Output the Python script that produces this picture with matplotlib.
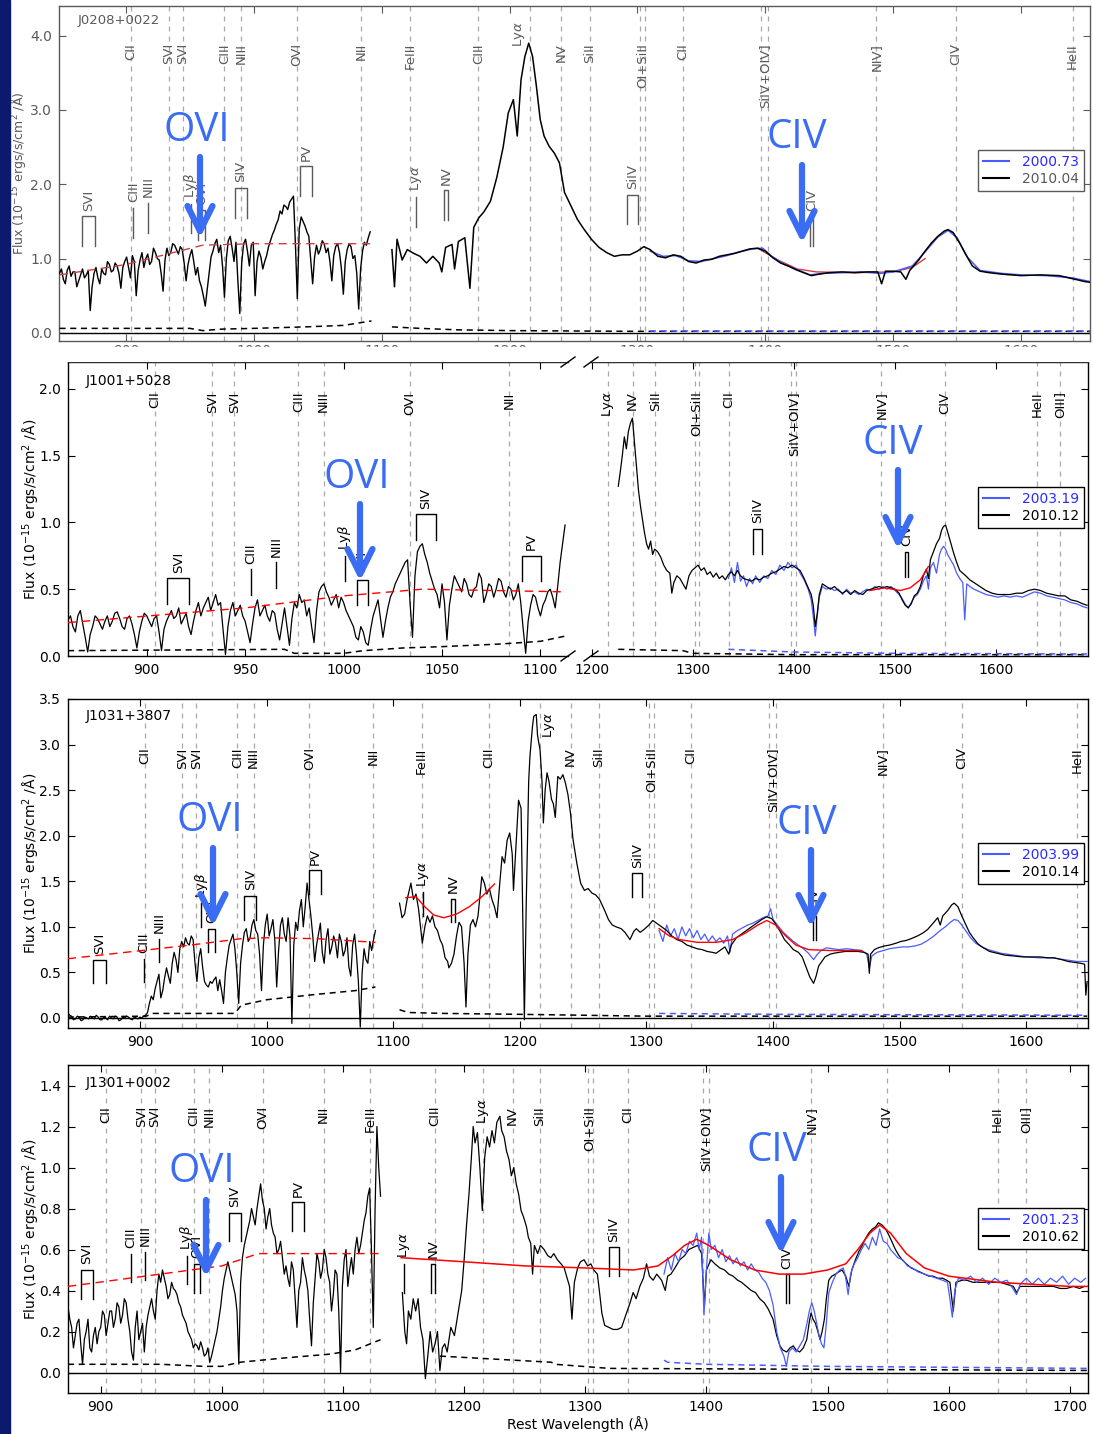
import numpy as np
import matplotlib.pyplot as plt
from matplotlib.patches import Rectangle, FancyArrowPatch
from matplotlib.lines import Line2D

W, H = 1093, 1434
BLUE = '#4a5cff'
CALL = '#3a6cf4'

# emission lines (rest wavelength, Angstrom)
EMISSION = [('CII', [903.96]), ('SVI', [933.38]), ('SVI', [944.52]), ('CIII', [977.02]),
            ('NIII', [989.8]), ('OVI', [1033.8]), ('NII', [1084.0]), ('FeIII', [1122.5]),
            ('CIII', [1175.7]), ('Ly$\\alpha$', [1215.67]), ('NV', [1240.1]), ('SiII', [1262.6]),
            ('OI+SiII', [1302.2, 1306.0]), ('CII', [1335.3]), ('SiIV+OIV]', [1396.8, 1402.0]),
            ('NIV]', [1486.5]), ('CIV', [1549.1]), ('HeII', [1640.4]), ('OIII]', [1663.5])]

# absorption troughs marked at the outflow velocity
ABS_REST = {'SVI': (933.38, 944.52), 'CIII': (977.02,), 'NIII': (989.8,), 'Ly$\\beta$': (1025.72,),
            'OVI': (1031.93, 1037.62), 'SIV': (1062.66, 1073.0), 'PV': (1117.98, 1128.01),
            'Ly$\\alpha$': (1215.67,), 'NV': (1238.82, 1242.80), 'SiIV': (1393.76, 1402.77),
            'CIV': (1548.2, 1550.77)}

# ---------------- J0208+0022 ----------------
j0208_ratio = 0.927
# 848 A onwards, 1.5 A per sample
j0208_blue_side = [.80, .86, .72, .66, .84, .90, .76, .82, .82, .62, .70, .78, .86, .74, .78, .84, .30, .62, .80, .88,
                   .74, .66, .86, .80, .78, .96, .92, .82, .84, .94, .90, .80, .60, .88, .96, 1.02, .88, .74, 1.04, .96,
                   .50, .84, .98, 1.08, .88, 1.00, 1.06, .92, .96, 1.14, 1.08, 1.00, .98, .80, .56, .98, 1.14, 1.04, 1.08, 1.20,
                   1.18, 1.12, 1.06, 1.16, 1.12, .94, .70, .92, 1.04, 1.12, .96, .78, .88, .70, .62, .50, .36, .58, .80, 1.02,
                   1.10, 1.20, 1.26, 1.08, 1.18, .90, .48, 1.00, 1.24, 1.30, 1.14, .96, 1.22, .70, .26, .94, 1.20, 1.26, 1.10, .90,
                   1.18, 1.22, .50, .96, 1.10, 1.02, .86, .96, 1.04, 1.16, 1.24, 1.32, 1.38, 1.46, 1.52, 1.64, 1.60, 1.72, 1.70, 1.66,
                   1.76, 1.80, 1.84, 1.20, .46, 1.40, 1.56, 1.50, 1.44, 1.36, 1.30, .98, .66, 1.02, 1.18, 1.06, 1.12, 1.24, 1.20, 1.08,
                   1.14, .96, .70, 1.04, 1.16, 1.20, 1.08, .86, .52, .96, 1.12, 1.20, 1.16, 1.00, 1.04, .80, .32, .86, 1.10, 1.22,
                   1.18, 1.28, 1.36]
j0208_red_side = [(1108, 1.12), (1110, 0.62), (1112, 1.26), (1116, 0.98), (1120, 1.12), (1125, 1.07), (1130, 1.03),
                  (1135, 0.94), (1140, 1.03), (1145, 0.94), (1147, 0.82), (1150, 1.15), (1155, 1.19), (1157, 0.86),
                  (1160, 1.23), (1165, 1.28), (1169, 0.60), (1172, 1.42), (1176, 1.55), (1180, 1.63), (1185, 1.77),
                  (1190, 2.09), (1195, 2.50), (1199, 2.96), (1203, 3.14), (1206, 2.65), (1209, 3.41), (1212, 3.72),
                  (1215, 3.90), (1218, 3.72), (1221, 3.32), (1224, 2.87), (1227, 2.65), (1231, 2.51), (1235, 2.42),
                  (1239, 2.29), (1243, 1.89), (1248, 1.71), (1253, 1.53), (1258, 1.40), (1264, 1.26), (1270, 1.15),
                  (1276, 1.08), (1282, 1.03), (1288, 1.05), (1294, 1.05), (1300, 1.10), (1305, 1.16), (1310, 1.12),
                  (1316, 1.03), (1322, 1.01), (1328, 1.05), (1334, 1.03), (1340, 0.96), (1346, 0.94), (1352, 0.98),
                  (1358, 0.99), (1364, 1.03), (1370, 1.05), (1376, 1.07), (1382, 1.10), (1388, 1.13), (1394, 1.14),
                  (1400, 1.10), (1406, 1.01), (1412, 0.94), (1418, 0.90), (1424, 0.85), (1430, 0.81), (1436, 0.77),
                  (1442, 0.79), (1450, 0.81), (1460, 0.82), (1470, 0.81), (1480, 0.82), (1488, 0.82), (1491, 0.66),
                  (1494, 0.83), (1500, 0.83), (1506, 0.82), (1510, 0.72), (1513, 0.84), (1520, 0.98), (1525, 1.10),
                  (1530, 1.21), (1535, 1.30), (1540, 1.37), (1543, 1.39), (1547, 1.35), (1552, 1.21), (1557, 1.05),
                  (1562, 0.90), (1568, 0.83), (1575, 0.81), (1585, 0.79), (1600, 0.77), (1615, 0.78), (1630, 0.77),
                  (1640, 0.73), (1650, 0.69), (1654, 0.68)]
j0208_early = [(1310, 1.10), (1320, 1.03), (1330, 1.04), (1340, 0.97), (1350, 0.96), (1360, 1.00), (1370, 1.04),
               (1380, 1.09), (1390, 1.13), (1398, 1.14), (1405, 1.03), (1415, 0.92), (1425, 0.85), (1435, 0.78),
               (1445, 0.80), (1460, 0.81), (1475, 0.82), (1490, 0.80), (1500, 0.82), (1515, 0.90), (1525, 1.09),
               (1535, 1.29), (1543, 1.38), (1550, 1.28), (1558, 1.02), (1568, 0.84), (1585, 0.80), (1600, 0.78),
               (1620, 0.77), (1640, 0.74), (1654, 0.69)]
j0208_err_a = [(848, 0.06), (900, 0.06), (950, 0.06), (960, 0.03), (975, 0.05), (1000, 0.06), (1040, 0.08),
               (1070, 0.10), (1092, 0.16)]
j0208_err_b = [(1108, 0.08), (1130, 0.06), (1160, 0.04), (1200, 0.03), (1300, 0.02), (1654, 0.02)]
j0208_err_early = [(1310, 0.03), (1654, 0.03)]
j0208_cont_a = [(848, 0.78), (900, 0.92), (960, 1.18), (1000, 1.20), (1092, 1.20)]
j0208_cont_b = [(1395, 1.13), (1410, 0.98), (1425, 0.86), (1440, 0.82), (1470, 0.81), (1500, 0.82),
                (1515, 0.88), (1525, 1.00)]
j0208_marks = {'SVI': 1.57, 'CIII': 1.68, 'NIII': 1.75, 'Ly$\\beta$': 1.74, 'OVI': 1.65, 'SIV': 1.95,
               'PV': 2.24, 'Ly$\\alpha$': 1.83, 'NV': 1.92, 'SiIV': 1.86, 'CIV': 1.57}

# ---------------- J1001+5028 ----------------
j1001_ratio = 0.9755
# 860 A onwards, 1.25 A per sample
j1001_blue_side = [.27, .30, .22, .18, .30, .34, .24, .14, .03, .16, .22, .30, .28, .24, .20, .26, .30, .22, .26, .32,
                   .33, .28, .22, .20, .28, .30, .24, .16, .06, .18, .26, .32, .30, .26, .22, .28, .30, .18, .04, .20,
                   .26, .30, .34, .28, .30, .36, .24, .28, .32, .22, .16, .26, .34, .40, .30, .36, .40, .44, .34, .40,
                   .46, .38, .40, .20, .01, .22, .34, .40, .30, .34, .38, .30, .26, .18, .10, .24, .36, .42, .30, .34,
                   .38, .30, .26, .34, .32, .20, .12, .24, .36, .22, .08, .28, .40, .36, .46, .40, .42, .30, .36, .22,
                   .10, .34, .48, .52, .54, .48, .44, .38, .42, .46, .36, .44, .40, .34, .30, .26, .22, .14, .12, .22,
                   .18, .10, .08, .20, .30, .36, .42, .28, .14, .26, .36, .44, .48, .54, .58, .62, .66, .70, .72, .40,
                   .14, .60, .78, .82, .84, .76, .70, .62, .56, .50, .46, .36, .54, .40, .12, .38, .50, .60, .56, .52,
                   .48, .58, .54, .46, .44, .50, .52, .62, .58, .40, .46, .54, .52, .44, .50, .58, .56, .48, .44, .52,
                   .50, .42, .46, .54, .40, .20, .02, .26, .38, .46, .44, .36, .30, .38, .42, .48, .50, .44, .36, .52,
                   .70, .84, .98]
j1001_red_side = [(1226, 1.27), (1228, 1.38), (1230, 1.50), (1232, 1.64), (1234, 1.55), (1236, 1.68), (1238, 1.74),
                  (1240, 1.78), (1242, 1.60), (1244, 1.42), (1246, 1.24), (1248, 1.12), (1250, 1.02), (1252, 0.92),
                  (1254, 0.84), (1256, 0.80), (1258, 0.86), (1260, 0.76), (1262, 0.80), (1265, 0.78), (1268, 0.74),
                  (1271, 0.68), (1274, 0.64), (1277, 0.62), (1279, 0.47), (1281, 0.55), (1284, 0.60), (1287, 0.58),
                  (1290, 0.54), (1293, 0.50), (1296, 0.60), (1299, 0.64), (1302, 0.66), (1305, 0.68), (1308, 0.64),
                  (1311, 0.66), (1314, 0.61), (1317, 0.63), (1320, 0.59), (1323, 0.62), (1326, 0.58), (1329, 0.60),
                  (1332, 0.57), (1335, 0.61), (1338, 0.63), (1341, 0.60), (1344, 0.64), (1347, 0.60), (1350, 0.58),
                  (1354, 0.57), (1358, 0.56), (1362, 0.58), (1366, 0.57), (1370, 0.59), (1374, 0.60), (1378, 0.62),
                  (1382, 0.63), (1386, 0.65), (1390, 0.67), (1394, 0.66), (1398, 0.68), (1402, 0.66), (1406, 0.64),
                  (1410, 0.58), (1414, 0.51), (1417, 0.46), (1419, 0.38), (1421, 0.22), (1423, 0.32), (1425, 0.46),
                  (1428, 0.54), (1432, 0.52), (1436, 0.50), (1440, 0.52), (1444, 0.49), (1448, 0.47), (1452, 0.49),
                  (1456, 0.46), (1460, 0.49), (1464, 0.47), (1468, 0.46), (1472, 0.49), (1476, 0.50), (1480, 0.51),
                  (1484, 0.52), (1488, 0.51), (1492, 0.52), (1496, 0.51), (1500, 0.50), (1504, 0.47), (1507, 0.42),
                  (1510, 0.38), (1513, 0.36), (1516, 0.39), (1519, 0.45), (1522, 0.47), (1525, 0.52), (1528, 0.60),
                  (1531, 0.65), (1533, 0.58), (1535, 0.72), (1538, 0.78), (1541, 0.84), (1544, 0.88), (1546, 0.94),
                  (1548, 0.97), (1550, 0.98), (1552, 0.93), (1555, 0.85), (1558, 0.77), (1561, 0.70), (1564, 0.64),
                  (1567, 0.62), (1570, 0.60), (1574, 0.57), (1578, 0.55), (1584, 0.52), (1590, 0.49), (1596, 0.47),
                  (1602, 0.46), (1608, 0.46), (1614, 0.46), (1620, 0.47), (1626, 0.47), (1632, 0.49), (1638, 0.50),
                  (1644, 0.49), (1650, 0.47), (1656, 0.46), (1662, 0.45), (1668, 0.45), (1674, 0.42), (1680, 0.41),
                  (1686, 0.39), (1690, 0.38)]
j1001_early = [(1335, 0.58), (1338, 0.66), (1341, 0.55), (1344, 0.70), (1347, 0.56), (1350, 0.60), (1353, 0.52),
               (1356, 0.58), (1359, 0.54), (1362, 0.60), (1366, 0.55), (1370, 0.60), (1374, 0.58), (1378, 0.64),
               (1382, 0.61), (1386, 0.68), (1390, 0.64), (1394, 0.70), (1398, 0.66), (1402, 0.68), (1406, 0.62),
               (1410, 0.57), (1414, 0.50), (1417, 0.42), (1419, 0.30), (1421, 0.15), (1423, 0.30), (1425, 0.44),
               (1428, 0.52), (1432, 0.50), (1436, 0.51), (1440, 0.49), (1444, 0.50), (1448, 0.46), (1452, 0.50),
               (1456, 0.47), (1460, 0.48), (1464, 0.46), (1468, 0.48), (1472, 0.50), (1476, 0.49), (1480, 0.52),
               (1484, 0.50), (1488, 0.52), (1492, 0.50), (1496, 0.52), (1500, 0.49), (1504, 0.46), (1507, 0.43),
               (1510, 0.39), (1513, 0.36), (1516, 0.40), (1519, 0.44), (1522, 0.46), (1525, 0.50), (1528, 0.56),
               (1531, 0.60), (1533, 0.50), (1535, 0.66), (1538, 0.70), (1541, 0.62), (1544, 0.76), (1546, 0.80),
               (1548, 0.82), (1550, 0.80), (1552, 0.76), (1555, 0.72), (1558, 0.68), (1561, 0.62), (1564, 0.58),
               (1567, 0.55), (1569, 0.27), (1571, 0.54), (1574, 0.52), (1578, 0.50), (1584, 0.48), (1590, 0.46),
               (1596, 0.45), (1602, 0.44), (1608, 0.45), (1614, 0.44), (1620, 0.45), (1626, 0.44), (1632, 0.46),
               (1638, 0.48), (1644, 0.47), (1650, 0.45), (1656, 0.44), (1662, 0.43), (1668, 0.42), (1674, 0.40),
               (1680, 0.39), (1686, 0.37), (1690, 0.36)]
j1001_err_a = [(860, 0.04), (970, 0.05), (975, 0.02), (1000, 0.02), (1010, 0.04), (1030, 0.06), (1050, 0.07),
               (1080, 0.09), (1100, 0.11), (1113, 0.15)]
j1001_err_b = [(1226, 0.05), (1290, 0.04), (1300, 0.02), (1400, 0.01), (1690, 0.01)]
j1001_err_early = [(1335, 0.05), (1400, 0.03), (1500, 0.02), (1690, 0.015)]
j1001_cont_a = [(860, 0.25), (950, 0.36), (1000, 0.45), (1040, 0.50), (1113, 0.48)]
j1001_cont_b = [(1475, 0.49), (1490, 0.51), (1505, 0.49), (1515, 0.51), (1525, 0.57), (1533, 0.67)]
j1001_marks = {'SVI': 0.58, 'CIII': 0.65, 'NIII': 0.70, 'Ly$\\beta$': 0.75, 'OVI': 0.57, 'SIV': 1.06,
               'PV': 0.75, 'SiIV': 0.95, 'CIV': 0.78}

# ---------------- J1031+3807 ----------------
j1031_ratio = 0.9245
# 843 A onwards, 1.5 A per sample
j1031_blue_side = [.06, .03, .02, -.02, -.01, .02, .01, -.03, -.02, .01, .00, -.01, .02, .00, -.01, .03, .01, -.02, -.02, .01,
                   .00, -.02, .02, .00, -.01, .02, .01, -.03, -.02, .01, .00, .02, .01, -.01, -.02, .01, .00, -.01, .01, .00,
                   .02, .03, .06, .16, .24, .20, .32, .40, .48, .22, .30, .44, .55, .46, .38, .60, .72, .64, .50, .76,
                   .84, .78, .88, .82, .80, .90, .86, .60, .40, .66, .76, .56, .40, .36, .34, .40, .38, .42, .45, .30,
                   .42, .30, .16, .50, .66, .80, .86, .92, .76, .50, .16, .60, .80, .94, .98, .84, .88, 1.02, 1.08, .96,
                   .92, .70, .30, .80, 1.02, 1.14, .90, .98, 1.08, .86, .34, .74, 1.02, 1.10, .92, .84, 1.10, .90, -.06, .80,
                   1.05, .96, 1.18, 1.30, 1.00, 1.22, 1.48, 1.30, 1.12, .90, .62, .80, .92, 1.04, .72, .60, .86, .98, .70, .78,
                   .90, .82, .66, .92, .84, .68, .74, .88, .56, .46, .80, .92, .70, .40, -.10, .50, .76, .64, .60, .84,
                   .74, .86, .96]
j1031_red_side = [(1105, 1.26), (1107, 1.10), (1109, 1.14), (1111, 1.30), (1113, 1.42), (1114, 1.48), (1116, 1.30),
                  (1118, 1.36), (1120, 1.20), (1122, 0.95), (1123, 0.82), (1125, 1.00), (1127, 1.12), (1129, 1.05),
                  (1131, 1.12), (1133, 1.00), (1135, 0.96), (1137, 0.86), (1139, 0.80), (1141, 0.66), (1143, 0.62),
                  (1144, 0.55), (1146, 0.60), (1148, 0.70), (1150, 0.90), (1152, 1.05), (1154, 1.00), (1156, 0.60),
                  (1157.5, 0.12), (1159, 0.70), (1161, 1.02), (1163, 1.08), (1165, 1.00), (1167, 1.12), (1169, 1.40),
                  (1170, 1.55), (1172, 1.48), (1174, 1.36), (1176, 1.42), (1178, 1.30), (1180, 1.22), (1182, 1.10),
                  (1184, 1.45), (1186, 1.77), (1188, 1.70), (1190, 1.95), (1192, 2.03), (1194, 1.80), (1195, 1.40),
                  (1197, 1.90), (1199, 2.39), (1201, 2.30), (1202.5, 1.00), (1203.6, -0.02), (1205, 1.20),
                  (1207, 2.60), (1208, 2.87), (1210, 3.20), (1211, 3.31), (1213, 3.33), (1214, 3.10), (1216, 2.94),
                  (1217.5, 2.60), (1218.6, 2.14), (1220, 2.50), (1221.5, 2.69), (1223, 2.60), (1225, 2.40),
                  (1226.5, 2.35), (1228, 2.20), (1230, 2.65), (1232, 2.62), (1234, 2.67), (1236, 2.58), (1238, 2.45),
                  (1240, 2.25), (1242, 1.96), (1245, 1.70), (1248, 1.48), (1251, 1.40), (1254, 1.42), (1257, 1.37),
                  (1260, 1.35), (1263, 1.30), (1267, 1.18), (1270, 1.08), (1273, 1.02), (1276, 1.00), (1280, 0.98),
                  (1283, 0.94), (1287, 0.86), (1290, 0.95), (1292, 0.98), (1295, 0.94), (1298, 0.97), (1302, 1.02),
                  (1305, 1.07), (1308, 1.04), (1312, 1.00), (1316, 0.96), (1320, 0.90), (1324, 0.86), (1328, 0.84),
                  (1332, 0.80), (1336, 0.78), (1340, 0.76), (1344, 0.75), (1348, 0.73), (1352, 0.72), (1355, 0.71),
                  (1358, 0.74), (1362, 0.78), (1365, 0.70), (1367, 0.80), (1371, 0.88), (1376, 0.93), (1381, 0.98),
                  (1386, 1.03), (1391, 1.08), (1395, 1.11), (1399, 1.09), (1402, 1.03), (1406, 0.94), (1409, 0.86),
                  (1413, 0.80), (1416, 0.75), (1420, 0.72), (1423, 0.67), (1426, 0.56), (1429, 0.45), (1432, 0.38),
                  (1434, 0.46), (1436, 0.57), (1439, 0.63), (1441, 0.67), (1445, 0.70), (1448, 0.71), (1452, 0.72),
                  (1457, 0.73), (1462, 0.73), (1467, 0.73), (1472, 0.72), (1475, 0.70), (1476, 0.49), (1477, 0.70),
                  (1480, 0.75), (1483, 0.77), (1488, 0.79), (1492, 0.80), (1497, 0.82), (1501, 0.84), (1505, 0.85),
                  (1509, 0.87), (1514, 0.90), (1518, 0.93), (1522, 0.97), (1527, 1.05), (1530, 1.10), (1532, 1.02),
                  (1534, 1.12), (1538, 1.18), (1541, 1.24), (1543, 1.26), (1546, 1.22), (1549, 1.12), (1552, 1.03),
                  (1555, 0.94), (1558, 0.88), (1562, 0.81), (1566, 0.77), (1571, 0.73), (1577, 0.71), (1583, 0.69),
                  (1590, 0.68), (1597, 0.67), (1604, 0.67), (1611, 0.67), (1617, 0.66), (1622, 0.66), (1628, 0.64),
                  (1633, 0.62), (1638, 0.61), (1643, 0.60), (1646, 0.59), (1647, 0.25), (1648, 0.40)]
j1031_early = [(1310, 0.96), (1313, 0.84), (1316, 1.02), (1319, 0.90), (1322, 0.98), (1325, 0.86), (1328, 1.00),
               (1331, 0.90), (1334, 0.98), (1337, 0.88), (1340, 0.96), (1343, 0.86), (1346, 0.92), (1349, 0.84),
               (1352, 0.90), (1355, 0.84), (1358, 0.88), (1361, 0.82), (1364, 0.90), (1366, 0.72), (1368, 0.92),
               (1372, 0.96), (1376, 0.99), (1380, 1.02), (1384, 1.04), (1388, 1.07), (1392, 1.10), (1396, 1.12),
               (1398, 1.20), (1400, 1.08), (1404, 1.01), (1408, 0.94), (1412, 0.89), (1416, 0.84), (1420, 0.80),
               (1424, 0.76), (1428, 0.71), (1432, 0.64), (1435, 0.70), (1438, 0.74), (1442, 0.77), (1447, 0.76),
               (1452, 0.75), (1458, 0.76), (1464, 0.75), (1470, 0.74), (1474, 0.70), (1476, 0.55), (1478, 0.68),
               (1482, 0.72), (1487, 0.74), (1492, 0.76), (1497, 0.77), (1502, 0.78), (1507, 0.78), (1512, 0.79),
               (1517, 0.81), (1522, 0.85), (1527, 0.90), (1532, 0.96), (1536, 1.00), (1540, 1.05), (1543, 1.08),
               (1546, 1.07), (1549, 1.02), (1552, 0.96), (1556, 0.88), (1560, 0.82), (1565, 0.78), (1570, 0.75),
               (1575, 0.73), (1580, 0.71), (1590, 0.69), (1600, 0.67), (1610, 0.66), (1620, 0.66), (1630, 0.64),
               (1640, 0.62), (1648, 0.62)]
j1031_err_a = [(843, 0.01), (905, 0.02), (910, 0.05), (975, 0.05), (980, 0.14), (1000, 0.20), (1040, 0.26),
               (1070, 0.30), (1086, 0.34)]
j1031_err_b = [(1105, 0.09), (1112, 0.06), (1140, 0.05), (1200, 0.04), (1300, 0.02), (1648, 0.02)]
j1031_err_early = [(1310, 0.05), (1400, 0.04), (1648, 0.03)]
j1031_cont_a = [(843, 0.65), (940, 0.80), (980, 0.87), (1000, 0.88), (1040, 0.87), (1086, 0.83)]
j1031_cont_b = [(1110, 1.32), (1118, 1.33), (1125, 1.22), (1132, 1.13), (1140, 1.10), (1150, 1.14), (1160, 1.22),
                (1170, 1.33), (1180, 1.47)]
j1031_cont_c = [(1310, 0.98), (1318, 0.90), (1326, 0.86), (1340, 0.83), (1355, 0.83), (1368, 0.86), (1378, 0.93),
                (1388, 1.02), (1395, 1.07), (1402, 1.02), (1410, 0.90), (1418, 0.80), (1428, 0.75), (1445, 0.74),
                (1470, 0.74)]
j1031_marks = {'SVI': 0.64, 'CIII': 0.65, 'NIII': 0.87, 'Ly$\\beta$': 1.26, 'OVI': 0.98, 'SIV': 1.34,
               'PV': 1.62, 'Ly$\\alpha$': 1.38, 'NV': 1.31, 'SiIV': 1.59, 'CIV': 1.12}

# ---------------- J1301+0002 ----------------
j1301_ratio = 0.9465
# 873 A onwards, 1.5 A per sample
j1301_blue_side = [.32, .26, .22, .12, .18, .24, .26, .14, .04, .16, .20, .26, .12, .10, .18, .22, .14, .20, .22, .30,
                   .28, .18, .24, .30, .30, .22, .26, .34, .32, .24, .28, .36, .34, .26, .20, .10, .06, .22, .30, .16,
                   .20, .24, .10, .22, .28, .32, .36, .30, .26, .40, .48, .44, .50, .46, .42, .36, .38, .44, .41, .40,
                   .38, .34, .32, .28, .26, .24, .20, .18, .16, .12, .14, .13, .11, .15, .12, .08, .09, .12, .05, .08,
                   .12, .16, .20, .26, .32, .40, .46, .50, .54, .50, .46, .42, .38, .30, .04, .44, .56, .62, .66, .70,
                   .74, .80, .76, .72, .80, .86, .92, .84, .80, .70, .76, .80, .72, .68, .66, .58, .60, .64, .56, .48,
                   .52, .46, .42, .54, .50, .36, .22, .40, .44, .56, .50, .46, .40, .26, .13, .34, .46, .58, .54, .46,
                   .50, .60, .56, .48, .44, .30, .38, .50, .48, .30, .00, .42, .55, .60, .42, .50, .56, .48, .60, .66,
                   .58, .62, .68, .74, .78, .86, .90, .60, .22, .80, 1.20, 1.00, .86]
j1301_red_side = [(1149, 0.39), (1151, 0.20), (1152.5, 0.14), (1154, 0.30), (1156, 0.26), (1158, 0.36), (1160, 0.30),
                  (1162, 0.36), (1164, 0.22), (1166, 0.16), (1168, -0.03), (1170, 0.08), (1172, 0.20), (1174, 0.10),
                  (1176, 0.14), (1178, 0.20), (1180, 0.01), (1182, 0.12), (1184, 0.14), (1186, 0.10), (1189, 0.22),
                  (1192, 0.18), (1195, 0.29), (1198, 0.40), (1200, 0.55), (1202, 0.72), (1204, 0.87), (1206, 1.05),
                  (1207.5, 1.20), (1209, 1.12), (1211, 1.17), (1213, 1.00), (1215, 0.79), (1217, 1.05), (1219, 1.15),
                  (1221, 1.10), (1223, 1.18), (1225, 1.12), (1227, 1.22), (1229.5, 1.25), (1231, 1.18), (1233, 1.15),
                  (1235, 1.08), (1237, 1.04), (1239, 0.96), (1241, 1.00), (1243, 0.92), (1245, 0.87), (1247, 0.79),
                  (1249, 0.76), (1251.5, 0.71), (1253, 0.66), (1255, 0.63), (1256.5, 0.48), (1258, 0.62),
                  (1260.7, 0.58), (1263, 0.62), (1266, 0.60), (1269, 0.57), (1271.6, 0.56), (1274, 0.58), (1277, 0.55),
                  (1280, 0.53), (1282.6, 0.51), (1285, 0.46), (1287, 0.42), (1289, 0.26), (1291, 0.44), (1293.7, 0.51),
                  (1296, 0.54), (1299, 0.55), (1302, 0.52), (1304.6, 0.53), (1307, 0.50), (1310, 0.48), (1312, 0.38),
                  (1313.7, 0.29), (1316, 0.23), (1319.5, 0.22), (1323, 0.21), (1326.7, 0.21), (1330, 0.22),
                  (1334, 0.29), (1337, 0.34), (1339.5, 0.39), (1342, 0.36), (1345, 0.42), (1348, 0.46),
                  (1350.6, 0.53), (1353, 0.47), (1356, 0.45), (1359, 0.48), (1363, 0.45), (1366, 0.40), (1368, 0.47),
                  (1370.7, 0.48), (1374, 0.51), (1378, 0.55), (1382, 0.57), (1385.5, 0.60), (1389, 0.61),
                  (1392.8, 0.62), (1396, 0.58), (1398.3, 0.32), (1400, 0.50), (1403.7, 0.55), (1407, 0.53),
                  (1411, 0.51), (1415, 0.50), (1418.5, 0.48), (1422, 0.47), (1425.8, 0.45), (1429, 0.44), (1433, 0.42),
                  (1437, 0.40), (1440.5, 0.39), (1444, 0.36), (1447.8, 0.34), (1451, 0.31), (1455, 0.26), (1458, 0.18),
                  (1460.7, 0.13), (1463, 0.11), (1466.2, 0.10), (1469, 0.12), (1471.7, 0.13), (1474, 0.11),
                  (1477, 0.10), (1480, 0.12), (1482.8, 0.16), (1485, 0.25), (1486.4, 0.29), (1488, 0.26), (1490, 0.24),
                  (1492, 0.20), (1493.8, 0.16), (1495.5, 0.20), (1497.4, 0.26), (1499, 0.36), (1501, 0.45),
                  (1503.5, 0.47), (1506.6, 0.48), (1509, 0.49), (1512, 0.50), (1515, 0.47), (1517.6, 0.42),
                  (1520, 0.50), (1523, 0.55), (1525.8, 0.59), (1528.6, 0.62), (1531, 0.65), (1534, 0.68), (1537, 0.70),
                  (1539.6, 0.71), (1542, 0.73), (1545, 0.72), (1548, 0.70), (1550.6, 0.67), (1553, 0.64), (1556, 0.60),
                  (1559, 0.57), (1561.6, 0.55), (1565, 0.53), (1569, 0.51), (1572.6, 0.50), (1576.3, 0.49),
                  (1580, 0.48), (1583.7, 0.47), (1587, 0.47), (1591, 0.46), (1595, 0.46), (1598.3, 0.45), (1601, 0.44),
                  (1603.8, 0.30), (1606, 0.44), (1611, 0.45), (1615, 0.45), (1620, 0.44), (1625, 0.44),
                  (1631.4, 0.44), (1637, 0.44), (1642.4, 0.44), (1648, 0.43), (1653.4, 0.42), (1656, 0.39),
                  (1659, 0.42), (1664.4, 0.42), (1670, 0.42), (1675.4, 0.42), (1681, 0.42), (1686.4, 0.42),
                  (1692, 0.41), (1697.4, 0.41), (1703, 0.42), (1708, 0.41), (1712, 0.42)]
j1301_early = [(1365, 0.48), (1368, 0.56), (1371, 0.50), (1374, 0.58), (1377, 0.54), (1380, 0.60), (1383, 0.58),
               (1386, 0.64), (1389, 0.62), (1392, 0.68), (1394, 0.60), (1396, 0.66), (1398, 0.28), (1400, 0.50),
               (1402, 0.68), (1404, 0.60), (1407, 0.62), (1410, 0.56), (1413, 0.60), (1416, 0.54), (1419, 0.57),
               (1422, 0.53), (1425, 0.56), (1428, 0.52), (1431, 0.54), (1434, 0.50), (1437, 0.53), (1440, 0.50),
               (1443, 0.49), (1446, 0.46), (1449, 0.44), (1452, 0.40), (1455, 0.33), (1458, 0.20), (1461, 0.12),
               (1464, 0.08), (1466, 0.03), (1468, 0.10), (1471, 0.12), (1474, 0.10), (1477, 0.13), (1480, 0.16),
               (1483, 0.24), (1485, 0.30), (1487, 0.34), (1489, 0.30), (1491, 0.24), (1493, 0.18), (1495, 0.14),
               (1497, 0.12), (1499, 0.24), (1501, 0.39), (1504, 0.44), (1507, 0.48), (1510, 0.50), (1513, 0.51),
               (1515, 0.46), (1517, 0.38), (1519, 0.48), (1522, 0.53), (1525, 0.56), (1528, 0.60), (1531, 0.63),
               (1534, 0.60), (1537, 0.66), (1540, 0.62), (1543, 0.70), (1546, 0.64), (1549, 0.63), (1552, 0.60),
               (1555, 0.58), (1558, 0.56), (1562, 0.55), (1566, 0.52), (1570, 0.51), (1575, 0.49), (1580, 0.48),
               (1585, 0.47), (1590, 0.46), (1595, 0.45), (1599, 0.44), (1601, 0.36), (1603, 0.27), (1605, 0.40),
               (1608, 0.46), (1613, 0.45), (1618, 0.47), (1623, 0.44), (1628, 0.46), (1633, 0.43), (1638, 0.46),
               (1643, 0.44), (1648, 0.45), (1653, 0.41), (1656, 0.38), (1659, 0.43), (1664, 0.46), (1669, 0.43),
               (1674, 0.46), (1679, 0.43), (1684, 0.46), (1689, 0.44), (1694, 0.47), (1699, 0.43), (1704, 0.46),
               (1709, 0.44), (1713, 0.46)]
j1301_err_a = [(873, 0.04), (950, 0.04), (985, 0.03), (1000, 0.03), (1015, 0.05), (1050, 0.07), (1090, 0.09),
               (1110, 0.11), (1131, 0.16)]
j1301_err_b = [(1180, 0.08), (1272, 0.05), (1275, 0.04), (1320, 0.02), (1715, 0.01)]
j1301_err_early = [(1365, 0.06), (1368, 0.05), (1400, 0.04), (1500, 0.03), (1715, 0.02)]
j1301_cont_a = [(873, 0.42), (1000, 0.52), (1030, 0.58), (1131, 0.58)]
j1301_cont_b = [(1148, 0.56), (1200, 0.54), (1250, 0.52), (1300, 0.51), (1340, 0.50), (1360, 0.52), (1372, 0.57),
                (1382, 0.62), (1392, 0.65), (1402, 0.62), (1420, 0.55), (1440, 0.50), (1460, 0.48), (1480, 0.48),
                (1500, 0.50), (1515, 0.53), (1525, 0.60), (1535, 0.68), (1543, 0.72), (1552, 0.68), (1565, 0.58),
                (1580, 0.51), (1600, 0.47), (1640, 0.44), (1700, 0.42), (1715, 0.42)]
j1301_marks = {'SVI': 0.50, 'CIII': 0.58, 'NIII': 0.59, 'Ly$\\beta$': 0.57, 'OVI': 0.53, 'SIV': 0.78,
               'PV': 0.83, 'Ly$\\alpha$': 0.53, 'NV': 0.53, 'SiIV': 0.61, 'CIV': 0.48}

FLUX_LABEL = 'Flux (10$^{-15}$ ergs/s/cm$^2$ /Å)'


def px(x, y):
    return x / W, 1 - y / H


def box(l, t, r, b):
    return [l / W, 1 - b / H, (r - l) / W, (b - t) / H]


def split(pairs):
    a = np.array(pairs, dtype=float)
    return a[:, 0], a[:, 1]


def regular(start, step, vals):
    return start + step * np.arange(len(vals)), np.array(vals)


def style(ax, xlim, ylim, xticks, yticks, color='black', pad=5):
    ax.set_xlim(*xlim)
    ax.set_ylim(*ylim)
    ax.set_xticks(xticks)
    ax.set_yticks(yticks)
    ax.set_yticklabels(['%.1f' % v for v in yticks])
    ax.tick_params(direction='in', top=True, right=True, length=5, width=0.8,
                   labelsize=10, colors=color, pad=5)
    ax.tick_params(axis='x', pad=pad)
    for s in ax.spines.values():
        s.set_color(color)
        s.set_linewidth(1)


def emission(ax, top, over=None, color='black'):
    lo, hi = ax.get_xlim()
    for name, waves in EMISSION:
        if not (lo < np.mean(waves) < hi):
            continue
        for w in waves:
            ax.axvline(w, color='#a8a8a8', lw=0.9, ls=(0, (4, 4)), zorder=1)
        x, y = np.mean(waves), top
        if over and name in over:
            dx, y = over[name]
            x += dx
        ax.text(x, y, name, rotation=90, ha='center', va='top', fontsize=9.5, color=color, zorder=4)


def troughs(ax, ratio, tops, leg, color='black'):
    lo, hi = ax.get_xlim()
    for name, top in tops.items():
        xs = [r * ratio for r in ABS_REST[name]]
        if not (lo < xs[0] < hi):
            continue
        if len(xs) == 1:
            ax.plot([xs[0], xs[0]], [top - leg, top], color=color, lw=1, zorder=4)
        else:
            ax.plot([xs[0], xs[0], xs[1], xs[1]], [top - leg, top, top, top - leg], color=color, lw=1, zorder=4)
        ax.annotate(name, (np.mean(xs), top), xytext=(0, 4), textcoords='offset points', rotation=90,
                    ha='center', va='bottom', fontsize=9.5, color=color, zorder=4)


def spectrum(ax, x, y, color='black', lw=0.9, ls='-', z=3):
    ax.plot(x, y, color=color, lw=lw, ls=ls, zorder=z)


def legend(ax, labels, x, y, color='black'):
    handles = [Line2D([], [], color=BLUE, lw=1.5), Line2D([], [], color='black', lw=1.5)]
    leg = ax.legend(handles, labels, loc='upper left', bbox_to_anchor=px(x, y), bbox_transform=fig.transFigure,
                    fancybox=False, edgecolor=color, fontsize=10, handlelength=1.9, borderpad=0.35,
                    labelspacing=0.25, borderaxespad=0, framealpha=1, handletextpad=0.9)
    leg.get_frame().set_linewidth(1)
    leg.get_texts()[0].set_color('#2a2aff')
    leg.get_texts()[1].set_color(color)
    leg.set_zorder(10)


def ylabel(x, top, bottom, size=10, color='black'):
    fig.text(*px(x, (top + bottom) / 2), FLUX_LABEL, rotation=90, ha='center', va='center',
             fontsize=size, color=color)


def callout(text, tx, ty, ax_x, y0, y1):
    fig.text(*px(tx, ty), text, fontsize=29, color=CALL, ha='center', va='baseline',
             family='Open Sans', zorder=12)
    fig.add_artist(FancyArrowPatch(px(ax_x, y0), px(ax_x, y1), transform=fig.transFigure,
                                   arrowstyle='->,head_length=0.9,head_width=0.45', mutation_scale=20,
                                   lw=4.5, color=CALL, shrinkA=0, shrinkB=0, zorder=12))


fig = plt.figure(figsize=(W / 100, H / 100), dpi=100)
fig.patch.set_facecolor('white')
fig.add_artist(Rectangle((0, 0), 10 / W, 1, transform=fig.transFigure, color='#0b1a6c', zorder=20))

# ---- panel 1: J0208+0022 ----
GREY = '#5a5a5a'
ax1 = fig.add_axes(box(59, 6, 1090, 341))
style(ax1, (847.6, 1654), (-0.11, 4.4), range(900, 1700, 100), [0, 1, 2, 3, 4], GREY, pad=2)
ax1.axhline(0, color='black', lw=1, zorder=2)
emission(ax1, 3.9, {'Ly$\\alpha$': (-8, 4.19)}, GREY)
troughs(ax1, j0208_ratio, j0208_marks, 0.4, GREY)
spectrum(ax1, *regular(848, 1.5, j0208_blue_side), lw=1.0)
spectrum(ax1, *split(j0208_early), color=BLUE, lw=1.1)
spectrum(ax1, *split(j0208_red_side), lw=1.1)
spectrum(ax1, *split(j0208_cont_a), color='#d04040', ls=(0, (6, 4)), lw=1, z=4)
spectrum(ax1, *split(j0208_cont_b), color='#d04040', lw=1, z=2)
for e in (j0208_err_a, j0208_err_b):
    spectrum(ax1, *split(e), ls=(0, (4, 3)), lw=1.1)
spectrum(ax1, *split(j0208_err_early), color=BLUE, ls=(0, (4, 3)), lw=1.1)
ax1.text(0.018, 0.975, 'J0208+0022', transform=ax1.transAxes, fontsize=9.5, color=GREY, va='top')
ylabel(19, 6, 341, 9, GREY)
legend(ax1, ['2000.73', '2010.04'], 978, 150, GREY)
# the panel below overlaps the tick labels of this one
fig.add_artist(Rectangle(px(10, 361), 1, 14 / H, transform=fig.transFigure, color='white', zorder=5))

# ---- panel 2: J1001+5028 (broken axis) ----
ax2a = fig.add_axes(box(68, 362, 568, 656))
ax2b = fig.add_axes(box(591, 362, 1088, 656))
style(ax2a, (860, 1114), (0, 2.2), [900, 950, 1000, 1050, 1100], [0, 0.5, 1.0, 1.5, 2.0])
style(ax2b, (1199, 1691), (0, 2.2), [1200, 1300, 1400, 1500, 1600], [0, 0.5, 1.0, 1.5, 2.0])
ax2a.spines['right'].set_visible(False)
ax2b.spines['left'].set_visible(False)
ax2a.tick_params(right=False)
ax2b.tick_params(left=False, labelleft=False)
for ax in (ax2a, ax2b):
    emission(ax, 1.98)
    troughs(ax, j1001_ratio, j1001_marks, 0.19)
spectrum(ax2a, *regular(860, 1.25, j1001_blue_side))
spectrum(ax2a, *split(j1001_cont_a), color='red', ls=(0, (6, 4)), lw=1, z=4)
spectrum(ax2a, *split(j1001_err_a), ls=(0, (4, 3)), lw=1.1)
spectrum(ax2b, *split(j1001_early), color=BLUE)
spectrum(ax2b, *split(j1001_red_side))
spectrum(ax2b, *split(j1001_cont_b), color='red', lw=1, z=4)
spectrum(ax2b, *split(j1001_err_b), ls=(0, (4, 3)), lw=1.1)
spectrum(ax2b, *split(j1001_err_early), color=BLUE, ls=(0, (4, 3)), lw=1.1)
ax2a.text(0.035, 0.96, 'J1001+5028', transform=ax2a.transAxes, fontsize=10, va='top')
ylabel(31, 362, 656)
legend(ax2b, ['2003.19', '2010.12'], 978, 487)
for cx in (568, 591):
    for cy in (362, 656):
        fig.add_artist(Line2D([(cx - 7) / W, (cx + 7) / W], [1 - (cy + 5) / H, 1 - (cy - 5) / H],
                              transform=fig.transFigure, color='black', lw=1, zorder=6))

# ---- panel 3: J1031+3807 ----
ax3 = fig.add_axes(box(68, 699, 1088, 1028))
style(ax3, (843.2, 1648.7), (-0.11, 3.5), range(900, 1700, 100), np.arange(0, 3.6, 0.5))
ax3.axhline(0, color='black', lw=1, zorder=2)
emission(ax3, 2.97, {'Ly$\\alpha$': (7, 3.35)})
troughs(ax3, j1031_ratio, j1031_marks, 0.26)
spectrum(ax3, *regular(843, 1.5, j1031_blue_side))
spectrum(ax3, *split(j1031_early), color=BLUE)
spectrum(ax3, *split(j1031_red_side))
spectrum(ax3, *split(j1031_cont_a), color='red', ls=(0, (6, 4)), lw=1, z=4)
spectrum(ax3, *split(j1031_cont_b), color='red', lw=1, z=4)
spectrum(ax3, *split(j1031_cont_c), color='red', lw=1, z=4)
for e in (j1031_err_a, j1031_err_b):
    spectrum(ax3, *split(e), ls=(0, (4, 3)), lw=1.1)
spectrum(ax3, *split(j1031_err_early), color=BLUE, ls=(0, (4, 3)), lw=1.1)
ax3.text(0.017, 0.97, 'J1031+3807', transform=ax3.transAxes, fontsize=10, va='top')
ylabel(31, 699, 1028)
legend(ax3, ['2003.99', '2010.14'], 978, 843)

# ---- panel 4: J1301+0002 ----
ax4 = fig.add_axes(box(68, 1065, 1088, 1393))
style(ax4, (873, 1715), (-0.1, 1.5), range(900, 1800, 100), np.arange(0, 1.41, 0.2))
ax4.axhline(0, color='black', lw=1, zorder=2)
emission(ax4, 1.30, {'Ly$\\alpha$': (0, 1.34)})
troughs(ax4, j1301_ratio, j1301_marks, 0.14)
spectrum(ax4, *regular(873, 1.5, j1301_blue_side))
spectrum(ax4, *split(j1301_red_side))
spectrum(ax4, *split(j1301_early), color=BLUE, z=3.5)
spectrum(ax4, *split(j1301_cont_a), color='red', ls=(0, (6, 4)), lw=1, z=4)
spectrum(ax4, *split(j1301_cont_b), color='red', lw=1.1, z=4)
for e in (j1301_err_a, j1301_err_b):
    spectrum(ax4, *split(e), ls=(0, (4, 3)), lw=1.1)
spectrum(ax4, *split(j1301_err_early), color=BLUE, ls=(0, (4, 3)), lw=1.1)
ax4.text(0.017, 0.965, 'J1301+0002', transform=ax4.transAxes, fontsize=10, va='top')
ylabel(31, 1065, 1393)
fig.text(*px(578, 1424), 'Rest Wavelength (Å)', ha='center', va='center', fontsize=10)
legend(ax4, ['2001.23', '2010.62'], 978, 1208)

# ---- blue call-outs ----
callout('OVI', 197, 141, 200, 157, 238)
callout('CIV', 797, 148, 802, 165, 243)
callout('OVI', 357, 488, 360, 504, 581)
callout('CIV', 893, 454, 898, 470, 549)
callout('OVI', 210, 831, 213, 848, 926)
callout('CIV', 807, 834, 811, 850, 927)
callout('OVI', 202, 1182, 206, 1200, 1277)
callout('CIV', 777, 1161, 781, 1177, 1254)

fig.savefig('out.png', dpi=100)
